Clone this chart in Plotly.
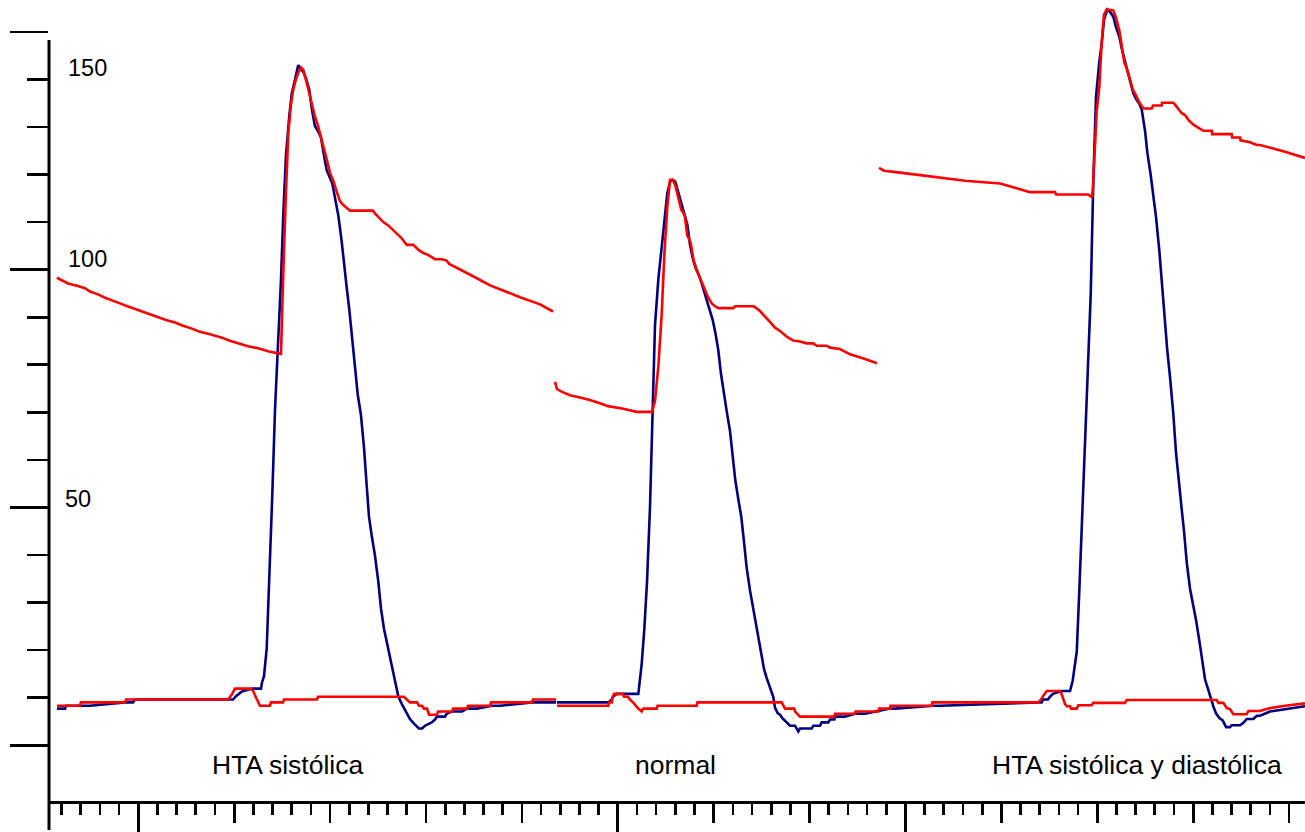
import plotly.graph_objects as go

# ---------------- data (time in ms, pressure in mmHg) ----------------
# blue trace, first recording (HTA sistólica)
t_azul_1 = [-84.8, -76.4, -75.4, -50.4, -13.9, -5.5, -3.4, 93.5, 98.8, 101.9, 106.1, 108.1,
            118.6, 128.0, 129.0, 131.1, 133.9, 136.6, 139.7, 142.6, 146.0, 148.8, 151.2, 154.0,
            157.5, 160.0, 163.4, 166.8, 169.7, 172.1, 174.9, 178.3, 181.1, 184.2, 187.1, 190.5,
            194.0, 196.5, 202.3, 205.1, 208.6, 212.1, 214.8, 217.3, 220.0, 223.2, 226.0, 228.8,
            232.2, 235.4, 238.2, 240.6, 243.4, 246.8, 250.3, 253.1, 256.2, 259.0, 261.7, 264.9,
            268.0, 271.1, 274.7, 278.1, 283.3, 287.8, 292.7, 295.9, 299.0, 306.0, 309.4, 311.5,
            319.8, 321.6, 327.1, 337.6, 342.8, 353.2, 368.9, 377.3, 410.6, 435.6]
p_azul_1 = [7.7, 7.7, 8.3, 8.3, 9.0, 9.0, 9.6, 9.6, 9.6, 10.3, 10.9, 11.3,
            11.9, 11.9, 13.2, 14.5, 20.3, 33.6, 52.4, 70.7, 84.9, 97.8, 111.6, 124.0,
            132.4, 137.0, 139.9, 143.0, 142.1, 141.6, 140.2, 137.9, 133.6, 130.2, 129.2, 127.8,
            123.6, 120.9, 118.1, 115.2, 111.4, 105.9, 100.5, 96.3, 91.7, 85.4, 78.7, 73.8,
            69.4, 62.5, 54.5, 48.0, 44.1, 39.9, 34.4, 28.7, 24.5, 21.8, 19.3, 16.1,
            12.6, 10.3, 8.7, 7.3, 5.5, 4.5, 3.5, 3.5, 4.1, 4.8, 5.4, 6.0,
            6.0, 6.6, 7.1, 7.1, 7.7, 7.7, 8.3, 8.3, 9.0, 9.0]

# blue trace, second + third recordings (normal, HTA sistólica y diastólica)
t_azul_2 = [436.6, 489.8, 493.7, 495.0, 498.9, 521.4, 522.1, 524.9, 527.7, 530.5, 533.6, 536.4,
            538.8, 542.3, 545.1, 548.5, 551.6, 554.5, 557.3, 560.0, 562.8, 566.2, 569.4, 572.5,
            575.3, 578.1, 581.3, 584.0, 587.5, 590.2, 593.4, 596.2, 599.0, 601.7, 604.8, 607.6,
            610.8, 613.6, 617.0, 619.8, 622.5, 625.4, 628.8, 631.6, 634.4, 637.9, 640.7, 643.4,
            646.2, 649.7, 652.5, 655.3, 658.7, 662.2, 663.9, 666.8, 669.2, 671.6, 675.1, 679.6,
            684.8, 686.6, 688.2, 690.0, 702.2, 703.9, 710.9, 712.6, 719.5, 721.3, 725.8, 726.5,
            736.9, 747.4, 757.8, 783.9, 789.1, 829.0, 836.0, 938.5, 942.1, 943.4, 948.6, 950.7,
            953.8, 962.9, 971.6, 974.4, 978.6, 981.3, 984.4, 986.5, 989.6, 993.2, 995.9, 998.7,
            1002.1, 1004.6, 1007.0, 1010.5, 1013.3, 1016.7, 1019.5, 1023.0, 1025.5, 1028.9, 1031.7,
            1034.9, 1037.6, 1040.4, 1043.8, 1046.3, 1049.8, 1052.2, 1055.7, 1058.5, 1061.3, 1064.7,
            1067.8, 1070.6, 1073.0, 1075.8, 1079.3, 1082.1, 1085.2, 1088.1, 1090.5, 1093.3, 1096.7,
            1100.2, 1103.0, 1106.4, 1110.0, 1112.4, 1115.2, 1117.6, 1121.0, 1123.8, 1127.3, 1130.8,
            1134.3, 1138.4, 1140.2, 1148.9, 1152.3, 1155.8, 1162.7, 1166.3, 1169.7, 1180.1, 1201.0,
            1216.6]
p_azul_2 = [9.0, 9.0, 9.6, 10.2, 10.8, 10.8, 12.0, 17.0, 24.5, 34.4, 50.1, 70.5,
            88.3, 98.0, 103.9, 110.4, 116.0, 118.5, 118.9, 118.5, 116.4, 113.7, 111.4, 109.5,
            105.3, 102.4, 100.3, 99.1, 97.1, 95.2, 93.5, 91.3, 89.4, 86.8, 83.1, 78.1,
            73.6, 70.2, 66.1, 60.8, 55.8, 52.1, 48.0, 42.8, 37.3, 32.5, 29.3, 26.5,
            22.9, 19.0, 16.0, 14.1, 12.2, 10.1, 7.9, 6.7, 6.4, 5.7, 5.0, 4.1,
            4.1, 3.6, 2.9, 3.5, 3.5, 4.1, 4.1, 4.8, 4.8, 5.4, 5.4, 6.0,
            6.0, 6.6, 6.6, 7.7, 7.7, 8.3, 8.3, 9.0, 9.0, 9.6, 9.6, 10.2,
            10.8, 11.4, 11.4, 13.6, 19.7, 32.7, 48.9, 61.5, 74.9, 95.0, 118.9, 136.4,
            143.7, 147.5, 152.5, 154.7, 154.2, 153.2, 151.0, 149.0, 146.5, 143.6, 141.6,
            139.1, 137.1, 135.9, 134.9, 133.7, 129.2, 124.6, 119.9, 115.6, 111.0, 104.0,
            95.7, 88.3, 83.0, 77.5, 69.6, 61.5, 54.5, 49.5, 44.9, 38.4, 32.9,
            29.5, 26.3, 22.0, 17.4, 13.8, 12.0, 10.2, 8.2, 6.7, 5.7, 5.2,
            3.8, 3.8, 4.2, 4.2, 4.7, 5.5, 5.5, 6.2, 6.2, 7.1, 7.8,
            8.2]

# red lower trace
t_roja_inf_1 = [-84.8, -60.8, -59.8, -13.9, -12.8, 93.5, 97.7, 100.8, 116.5, 119.6, 121.7, 124.8,
                126.9, 137.3, 138.4, 150.9, 151.9, 186.3, 187.4, 277.0, 280.1, 283.3, 290.6, 292.7,
                295.9, 297.9, 301.1, 303.2, 311.5, 312.6, 327.1, 328.2, 342.8, 343.9, 366.8, 367.9,
                410.6, 411.6, 435.6]
p_roja_inf_1 = [8.3, 8.3, 9.0, 9.0, 9.6, 9.6, 10.7, 11.9, 11.9, 11.5, 10.5, 9.2,
                8.3, 8.3, 9.0, 9.0, 9.6, 9.6, 10.2, 10.2, 9.6, 9.0, 9.0, 8.3,
                8.3, 7.7, 7.7, 6.4, 6.4, 7.1, 7.1, 7.7, 7.7, 8.3, 8.3, 9.0,
                9.0, 9.6, 9.6]
t_roja_inf_2 = [436.6, 490.1, 490.8, 493.7, 494.5, 496.1, 505.5, 506.5, 510.7, 512.7, 515.9, 518.7,
                521.4, 524.9, 526.6, 540.6, 541.4, 582.3, 583.1, 670.9, 672.6, 674.4, 684.1, 684.8,
                687.6, 690.0, 725.8, 726.5, 747.4, 747.9, 771.7, 772.4, 783.9, 784.4, 827.4, 828.0,
                938.5, 941.3, 943.4, 947.3, 961.1, 962.9, 966.3, 968.1, 971.6, 972.6, 978.6, 980.2,
                994.2, 995.9, 1028.9, 1030.7, 1124.6, 1126.3, 1131.5, 1135.0, 1138.4, 1141.9, 1155.8,
                1157.5, 1169.7, 1180.1, 1195.8, 1216.6]
p_roja_inf_2 = [8.3, 8.3, 9.0, 9.0, 9.9, 10.8, 10.8, 10.2, 10.2, 9.6, 9.0, 8.3,
                7.7, 7.1, 7.7, 7.7, 8.3, 8.3, 9.0, 9.0, 8.3, 7.7, 7.7, 7.1,
                6.5, 6.0, 6.0, 6.6, 6.6, 7.1, 7.1, 7.7, 7.7, 8.3, 8.3, 9.0,
                9.0, 9.6, 10.3, 11.4, 11.4, 10.7, 8.7, 8.2, 8.2, 7.7, 7.7, 8.4,
                8.4, 8.9, 8.9, 9.5, 9.5, 8.9, 8.9, 7.8, 7.6, 6.5, 6.5,
                7.2, 7.2, 7.8, 8.3, 8.8]

# red upper trace (arterial pressure), three recordings
t_roja_sup_1 = [-84.8, -73.3, -63.9, -55.6, -50.4, -42.0, -34.7, -27.4, -19.1, -12.8, -4.5, 3.8,
                14.3, 22.6, 28.9, 38.3, 46.6, 56.0, 63.3, 74.8, 87.3, 94.6, 104.0, 114.4,
                125.9, 136.3, 148.8, 149.5, 151.2, 154.0, 156.4, 159.2, 161.6, 164.4, 166.8, 169.7,
                172.1, 175.6, 178.3, 181.1, 184.2, 187.1, 191.2, 194.0, 197.1, 199.9, 203.3, 206.9,
                210.3, 213.2, 215.6, 220.8, 244.7, 246.8, 251.3, 255.5, 260.7, 265.3, 269.5, 274.7,
                279.9, 286.8, 292.0, 297.2, 302.1, 309.4, 316.4, 321.6, 324.3, 335.5, 351.1, 366.8,
                382.4, 398.1, 418.9, 432.5]
p_roja_sup_1 = [98.3, 97.1, 96.6, 96.1, 95.4, 94.8, 94.1, 93.6, 92.9, 92.4, 91.8, 91.2,
                90.6, 89.9, 89.4, 88.9, 88.2, 87.6, 87.0, 86.4, 85.7, 85.1, 84.5, 83.9,
                83.4, 82.8, 82.3, 86.2, 99.4, 116.4, 128.6, 134.7, 137.9, 140.0, 141.4, 142.5,
                142.0, 139.3, 137.0, 134.5, 132.2, 130.5, 127.5, 125.2, 122.7, 120.4, 118.7, 116.4,
                114.4, 113.7, 113.3, 112.4, 112.4, 111.8, 110.9, 110.0, 109.3, 108.4, 107.5, 106.6,
                105.2, 105.2, 104.2, 103.5, 103.1, 102.2, 102.2, 101.9, 101.2, 100.1, 98.4, 96.7,
                95.4, 94.2, 92.7, 91.2]
t_roja_sup_2 = [434.5, 436.6, 441.8, 450.2, 460.6, 471.0, 481.5, 489.8, 504.4, 520.0, 535.7, 538.8,
                542.3, 545.8, 548.5, 551.6, 554.5, 557.3, 560.0, 563.5, 566.2, 569.8, 572.5, 576.0,
                578.8, 581.6, 585.0, 588.6, 591.3, 594.1, 598.0, 601.4, 604.9, 620.5, 622.3, 641.3,
                643.1, 648.3, 651.8, 655.3, 658.7, 663.9, 669.2, 676.2, 683.0, 690.0, 697.0, 703.9,
                707.4, 717.9, 721.3, 731.7, 742.2, 757.8, 770.3]
p_roja_sup_2 = [76.4, 74.9, 74.3, 73.6, 73.1, 72.6, 71.9, 71.3, 70.8, 70.1, 70.1, 72.4,
                79.7, 90.6, 103.0, 113.1, 118.9, 118.9, 117.7, 115.0, 112.6, 111.4, 107.2, 105.7,
                102.2, 100.3, 98.7, 97.1, 95.7, 94.2, 92.9, 92.3, 91.9, 91.9, 92.3, 92.3,
                92.1, 91.3, 90.5, 89.8, 89.0, 87.8, 87.1, 85.9, 85.1, 84.9, 84.5, 84.5,
                84.0, 84.0, 83.6, 83.3, 82.2, 81.2, 80.3]
t_roja_sup_3 = [772.4, 777.6, 794.3, 825.6, 862.1, 898.6, 929.9, 956.0, 957.0, 990.7, 994.2, 995.3,
                999.4, 1002.1, 1004.6, 1007.0, 1009.8, 1016.7, 1019.5, 1023.0, 1025.5, 1028.2, 1031.4,
                1034.2, 1037.0, 1040.4, 1043.8, 1048.0, 1056.8, 1058.1, 1067.2, 1067.5, 1079.3, 1081.1,
                1084.5, 1088.1, 1091.5, 1095.0, 1100.2, 1105.4, 1110.6, 1119.4, 1119.7, 1140.2, 1140.5,
                1148.9, 1149.4, 1159.3, 1166.3, 1169.7, 1180.1, 1195.8, 1216.6]
p_roja_sup_3 = [121.4, 120.8, 120.4, 119.6, 118.7, 118.1, 116.3, 116.3, 115.8, 115.8, 115.2, 116.6,
                133.4, 138.3, 147.8, 153.6, 154.7, 154.5, 153.0, 150.3, 147.1, 143.6, 141.9,
                139.9, 137.9, 136.6, 135.2, 133.9, 133.9, 134.5, 134.5, 135.1, 135.1, 134.7,
                133.9, 132.9, 132.5, 131.5, 130.5, 129.8, 129.2, 129.2, 128.5, 128.5, 127.8,
                127.8, 127.2, 126.8, 126.2, 126.2, 125.7, 124.8, 123.5]

# axis ticks and labels
y_mayores = [0, 50, 100, 150]
y_menores = [10, 20, 30, 40, 60, 70, 80, 90, 110, 120, 130, 140]
x_largos = [0, 500, 800]
y_etiquetas = ["150", "100", "50"]
y_etiquetas_pos = [(-75.4, 142.4), (-75.4, 102.2), (-78.8, 51.8)]
categorias = ["HTA sistólica", "normal", "HTA sistólica y diastólica"]
categorias_t = [155.3, 560.7, 1041.8]
categorias_p = -4.1

X_RANGE = [-93.1, 1216.6]
Y_RANGE = [-17.83, 156.70]

AZUL = "#000080"
ROJO = "#ff0000"
LW = 2.6
FONT = "Liberation Sans, Arial, sans-serif"

fig = go.Figure()

def add(t, p, color):
    fig.add_trace(go.Scatter(x=t, y=p, mode="lines", line=dict(color=color, width=LW),
                             showlegend=False, hoverinfo="skip"))

add(t_azul_1, p_azul_1, AZUL)
add(t_azul_2, p_azul_2, AZUL)
add(t_roja_inf_1, p_roja_inf_1, ROJO)
add(t_roja_inf_2, p_roja_inf_2, ROJO)
add(t_roja_sup_1, p_roja_sup_1, ROJO)
add(t_roja_sup_2, p_roja_sup_2, ROJO)
add(t_roja_sup_3, p_roja_sup_3, ROJO)

# helper trace so the long-tick overlay axis is drawn
fig.add_trace(go.Scatter(x=[X_RANGE[0]], y=[Y_RANGE[0] - 100], xaxis="x2", mode="lines",
                         showlegend=False, hoverinfo="skip"))

annotations = []
for txt, (tx, py) in zip(y_etiquetas, y_etiquetas_pos):
    annotations.append(dict(x=tx, y=py, xref="x", yref="y", text=txt, showarrow=False,
                            xanchor="left", yanchor="middle",
                            font=dict(family=FONT, size=23.5, color="#000")))
for txt, tx in zip(categorias, categorias_t):
    annotations.append(dict(x=tx, y=categorias_p, xref="x", yref="y", text=txt, showarrow=False,
                            xanchor="center", yanchor="middle",
                            font=dict(family=FONT, size=26.5, color="#000")))

X_POS = (832 - 803.5) / 832

fig.update_layout(
    width=1305, height=832,
    margin=dict(l=49, r=0, t=0, b=0),
    paper_bgcolor="white", plot_bgcolor="white",
    showlegend=False,
    annotations=annotations,
    xaxis=dict(range=X_RANGE, anchor="free", position=X_POS,
               tick0=0, dtick=100, ticks="outside", ticklen=19, tickwidth=2.7, tickcolor="black",
               showline=True, linewidth=3, linecolor="black",
               showticklabels=False, showgrid=False, zeroline=False,
               minor=dict(tick0=0, dtick=20, ticks="outside", ticklen=11, tickwidth=2.7,
                          tickcolor="black", showgrid=False)),
    xaxis2=dict(range=X_RANGE, overlaying="x", anchor="free", position=X_POS,
                tickmode="array", tickvals=x_largos, ticks="outside", ticklen=30,
                tickwidth=2.7, tickcolor="black", showline=False, showticklabels=False,
                showgrid=False, zeroline=False),
    yaxis=dict(range=Y_RANGE, tickmode="array", tickvals=y_mayores, ticks="outside",
               ticklen=38, tickwidth=2.7, tickcolor="black", showline=False,
               showticklabels=False, showgrid=False, zeroline=False,
               minor=dict(tickmode="array", tickvals=y_menores, ticks="outside", ticklen=21,
                          tickwidth=2.7, tickcolor="black", showgrid=False)),
    shapes=[dict(type="line", xref="paper", yref="paper", x0=0, x1=0,
                 y0=0, y1=(832 - 40) / 832, line=dict(color="black", width=3))],
)

fig.write_html("out.html",
               config={"displayModeBar": False, "staticPlot": True},
               post_script="document.body.style.margin='0';document.body.style.overflow='hidden';")
